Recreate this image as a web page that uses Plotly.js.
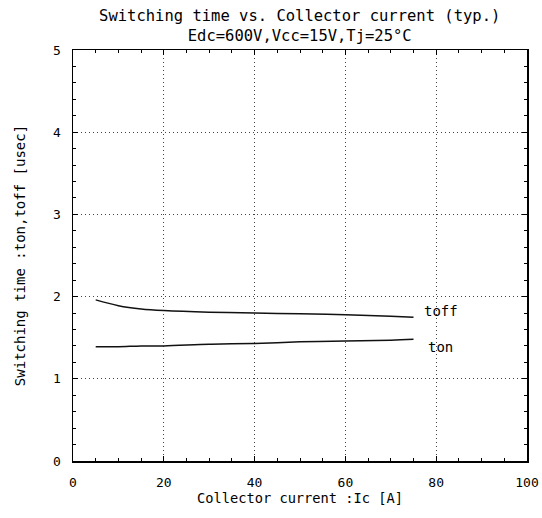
<!DOCTYPE html>
<html><head><meta charset="utf-8">
<script src="https://cdn.plot.ly/plotly-3.0.1.min.js"></script>
<style>body{margin:0;background:#fff}#c{width:542px;height:518px}</style>
</head><body><div id="c"></div>
<script>
const ic = [5, 10, 15, 20, 30, 40, 50, 60, 70, 75];
const toff = [1.96, 1.89, 1.85, 1.83, 1.81, 1.80, 1.79, 1.78, 1.76, 1.75];
const ton = [1.39, 1.39, 1.40, 1.40, 1.42, 1.43, 1.45, 1.46, 1.47, 1.48];
const labels = ['toff', 'ton'];
const F = '"DejaVu Sans Mono", monospace';
const data = [
  {x: ic, y: toff, mode: 'lines', line: {color: '#111', width: 1.5, shape: 'spline'}, name: labels[0]},
  {x: ic, y: ton, mode: 'lines', line: {color: '#111', width: 1.5, shape: 'spline'}, name: labels[1]}
];
const ax = {
  showline: true, mirror: 'ticks', linecolor: '#000', linewidth: 1.5,
  ticks: 'inside', ticklen: 5, tickcolor: '#000',
  showgrid: true, gridcolor: '#444', griddash: '1px,3px', gridwidth: 1,
  zeroline: false, tickfont: {family: F, size: 13, color: '#000'}
};
const layout = {
  width: 542, height: 518, showlegend: false,
  paper_bgcolor: '#fff', plot_bgcolor: '#fff',
  margin: {l: 73, r: 15, t: 50, b: 57},
  title: {text: 'Switching time vs. Collector current (typ.)<br>Edc=600V,Vcc=15V,Tj=25°C',
    font: {family: F, size: 15.5, color: '#000'}, x: 0.553, xanchor: 'center',
    yref: 'container', y: 0.96, yanchor: 'middle'},
  xaxis: Object.assign({}, ax, {range: [0, 100], dtick: 20, ticklabelstandoff: 9,
    minor: {dtick: 5, ticks: 'inside', ticklen: 3, tickcolor: '#000', showgrid: false},
    title: {text: 'Collector current :Ic [A]', font: {family: F, size: 13.7, color: '#000'}, standoff: 4}}),
  yaxis: Object.assign({}, ax, {range: [0, 5], dtick: 1, ticklabelstandoff: 8,
    minor: {dtick: 0.2, ticks: 'inside', ticklen: 3, tickcolor: '#000', showgrid: false},
    title: {text: 'Switching time :ton,toff [usec]', font: {family: F, size: 14, color: '#000'}, standoff: 24}}),
  annotations: [
    {x: 81, y: 1.83, xref: 'x', yref: 'y', text: labels[0], showarrow: false, font: {family: F, size: 14, color: '#000'}},
    {x: 81, y: 1.39, xref: 'x', yref: 'y', text: labels[1], showarrow: false, font: {family: F, size: 14, color: '#000'}}
  ]
};
Plotly.newPlot('c', data, layout, {displayModeBar: false, staticPlot: true});
</script></body></html>
